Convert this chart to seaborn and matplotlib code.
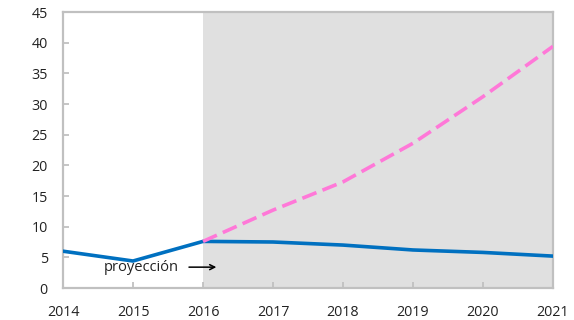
import matplotlib
matplotlib.use("Agg")
import matplotlib.pyplot as plt
import seaborn as sns
import pandas as pd

sns.set_theme(style="white")
plt.rcParams['font.family'] = ['Open Sans', 'DejaVu Sans']

years = [2014, 2015, 2016, 2017, 2018, 2019, 2020, 2021]
base = [6.0, 4.4, 7.6, 7.5, 7.0, 6.2, 5.8, 5.2]
proj_years = [2016, 2017, 2018, 2019, 2020, 2021]
proj = [7.6, 12.7, 17.3, 23.6, 31.2, 39.4]
y_ticks = [0, 5, 10, 15, 20, 25, 30, 35, 40, 45]

df_base = pd.DataFrame({"year": years, "value": base})
df_proj = pd.DataFrame({"year": proj_years, "value": proj})

fig = plt.figure(figsize=(5.74, 3.2), dpi=100)
ax = fig.add_axes([0.1098, 0.1, 0.8536, 0.8625])

# shaded projection period
ax.axvspan(2016, 2021, color="#e0e0e0", zorder=0, lw=0)

sns.lineplot(data=df_base, x="year", y="value", ax=ax, color="#0070c0",
             lw=2.6, zorder=3)
sns.lineplot(data=df_proj, x="year", y="value", ax=ax, color="#ff78d8",
             lw=2.6, zorder=4)
ax.lines[-1].set_dashes((4.2, 1.8))

ax.set_xlim(2014, 2021)
ax.set_ylim(0, 45)
ax.set_xticks(years)
ax.set_yticks(y_ticks)
ax.set_xlabel("")
ax.set_ylabel("")

for s in ax.spines.values():
    s.set_color("#c0c0c0")
    s.set_linewidth(1.6)

ax.tick_params(axis="both", direction="in", length=4, width=1.3,
               color="#c0c0c0", labelsize=10.3, labelcolor="#222222",
               left=True, bottom=True)
ax.tick_params(axis="x", pad=12)
ax.tick_params(axis="y", pad=11)

ax.annotate("", xy=(2016.23, 3.4), xytext=(2015.76, 3.4),
            arrowprops=dict(arrowstyle="->", color="black", lw=1.1,
                            mutation_scale=9))
ax.text(2015.12, 3.3, "proyección", ha="center", va="center",
        fontsize=10.5, color="#222222")

fig.savefig("out.png", dpi=100)
